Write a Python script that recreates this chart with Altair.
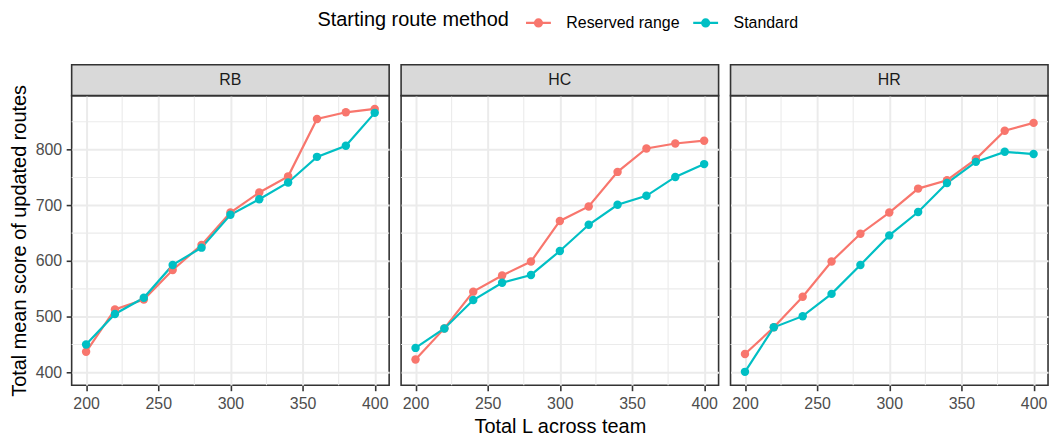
import altair as alt
import pandas as pd

# Facet panels, series and x positions
panels = ["RB", "HC", "HR"]
methods = ["Reserved range", "Standard"]
colors = ["#F8766D", "#00BFC4"]
total_l = [200, 220, 240, 260, 280, 300, 320, 340, 360, 380, 400]

scores = {
    ("RB", "Reserved range"): [437, 513, 531, 584, 629, 687, 723, 752, 855, 867, 873],
    ("RB", "Standard"):       [450, 505, 534, 593, 624, 683, 711, 741, 787, 807, 866],
    ("HC", "Reserved range"): [423, 479, 545, 574, 599, 672, 698, 760, 802, 811, 816],
    ("HC", "Standard"):       [444, 479, 530, 561, 575, 618, 665, 701, 717, 751, 774],
    ("HR", "Reserved range"): [433, 481, 536, 599, 649, 687, 730, 745, 783, 834, 848],
    ("HR", "Standard"):       [401, 481, 501, 541, 593, 646, 688, 740, 778, 796, 792],
}

# Axis breaks (major and minor grid)
x_breaks = [200, 250, 300, 350, 400]
x_minor = [225, 275, 325, 375]
y_breaks = [400, 500, 600, 700, 800]
y_minor = [450, 550, 650, 750, 850]
x_domain = [190, 410]
y_domain = [377, 897]

rows = []
for (p, m), vals in scores.items():
    for l, v in zip(total_l, vals):
        rows.append({"panel": p, "method": m, "L": l, "score": v})
df = pd.DataFrame(rows)

W, H, STRIP = 319, 291, 31
FONT = "Liberation Sans"

xscale = alt.Scale(domain=x_domain, nice=False, zero=False)
yscale = alt.Scale(domain=y_domain, nice=False, zero=False)
cscale = alt.Scale(domain=methods, range=colors)


def circle(r):
    return f"M{-r},0A{r},{r} 0 1,0 {r},0A{r},{r} 0 1,0 {-r},0"


# legend key: a short line with a dot on it
key_path = "M-1,0L1,0" + "".join(circle(r) for r in (0.28, 0.2, 0.12, 0.04))

legend = alt.Legend(
    title="Starting route method",
    orient="none",
    direction="horizontal",
    titleOrient="left",
    legendX=247,
    legendY=-87,
    symbolType=key_path,
    symbolSize=625,
    symbolStrokeWidth=2.2,
    titleFontSize=20,
    titleFontWeight="normal",
    titleColor="black",
    titlePadding=15,
    titleLimit=500,
    labelFontSize=16,
    labelColor="black",
    labelOffset=14,
    labelLimit=300,
    columnPadding=9,
)


def panel(name, i):
    d = df[df.panel == name]
    xaxis = alt.Axis(
        values=x_breaks,
        title="Total L across team" if i == 1 else None,
        format="d",
    )
    if i == 0:
        yaxis = alt.Axis(values=y_breaks, title="Total mean score of updated routes", format="d")
    else:
        yaxis = alt.Axis(values=y_breaks, labels=False, ticks=False, domain=False,
                         title=None, minExtent=0, maxExtent=0)

    # minor grid lines drawn as rules under the data
    vgrid = alt.Chart(pd.DataFrame({"L": x_minor})).mark_rule(
        color="#EBEBEB", strokeWidth=1.1
    ).encode(x=alt.X("L:Q", scale=xscale, axis=xaxis))
    hgrid = alt.Chart(pd.DataFrame({"score": y_minor})).mark_rule(
        color="#EBEBEB", strokeWidth=1.1
    ).encode(y=alt.Y("score:Q", scale=yscale, axis=yaxis))

    base = alt.Chart(d).encode(
        x=alt.X("L:Q", scale=xscale, axis=xaxis),
        y=alt.Y("score:Q", scale=yscale, axis=yaxis),
        color=alt.Color("method:N", scale=cscale, legend=legend),
    )
    lines = base.mark_line(strokeWidth=2.2)
    points = base.mark_circle(size=72, opacity=1)

    strip_data = alt.Data(values=[{"label": name}])
    strip = alt.Chart(strip_data).mark_rect(
        fill="#D9D9D9", stroke="#333333", strokeWidth=1.6
    ).encode(x=alt.value(0), x2=alt.value(W), y=alt.value(-STRIP), y2=alt.value(0))
    strip_text = alt.Chart(strip_data).mark_text(
        fontSize=16, color="#1A1A1A", font=FONT, baseline="middle", align="center"
    ).encode(x=alt.value(W / 2), y=alt.value(-STRIP / 2), text="label:N")

    return alt.layer(vgrid, hgrid, lines, points, strip, strip_text).properties(
        width=W, height=H
    )


chart = alt.hconcat(*[panel(p, i) for i, p in enumerate(panels)], spacing=8).resolve_scale(
    color="shared"
).properties(
    padding={"left": 8, "right": 4, "top": 8, "bottom": 2},
    background="white",
).configure_view(
    stroke="#333333", strokeWidth=1.6
).configure_axis(
    gridColor="#EBEBEB",
    gridWidth=2,
    labelFont=FONT,
    labelFontSize=16,
    labelColor="#4D4D4D",
    tickColor="#333333",
    tickWidth=1.6,
    tickSize=5.5,
    labelPadding=4.5,
    domain=False,
    titleFont=FONT,
    titleFontSize=20,
    titleFontWeight="normal",
    titleColor="black",
    titlePadding=6,
).configure_legend(
    labelFont=FONT, titleFont=FONT
).configure_text(font=FONT)

chart.save("out.html", embed_options={"renderer": "svg", "actions": False})
